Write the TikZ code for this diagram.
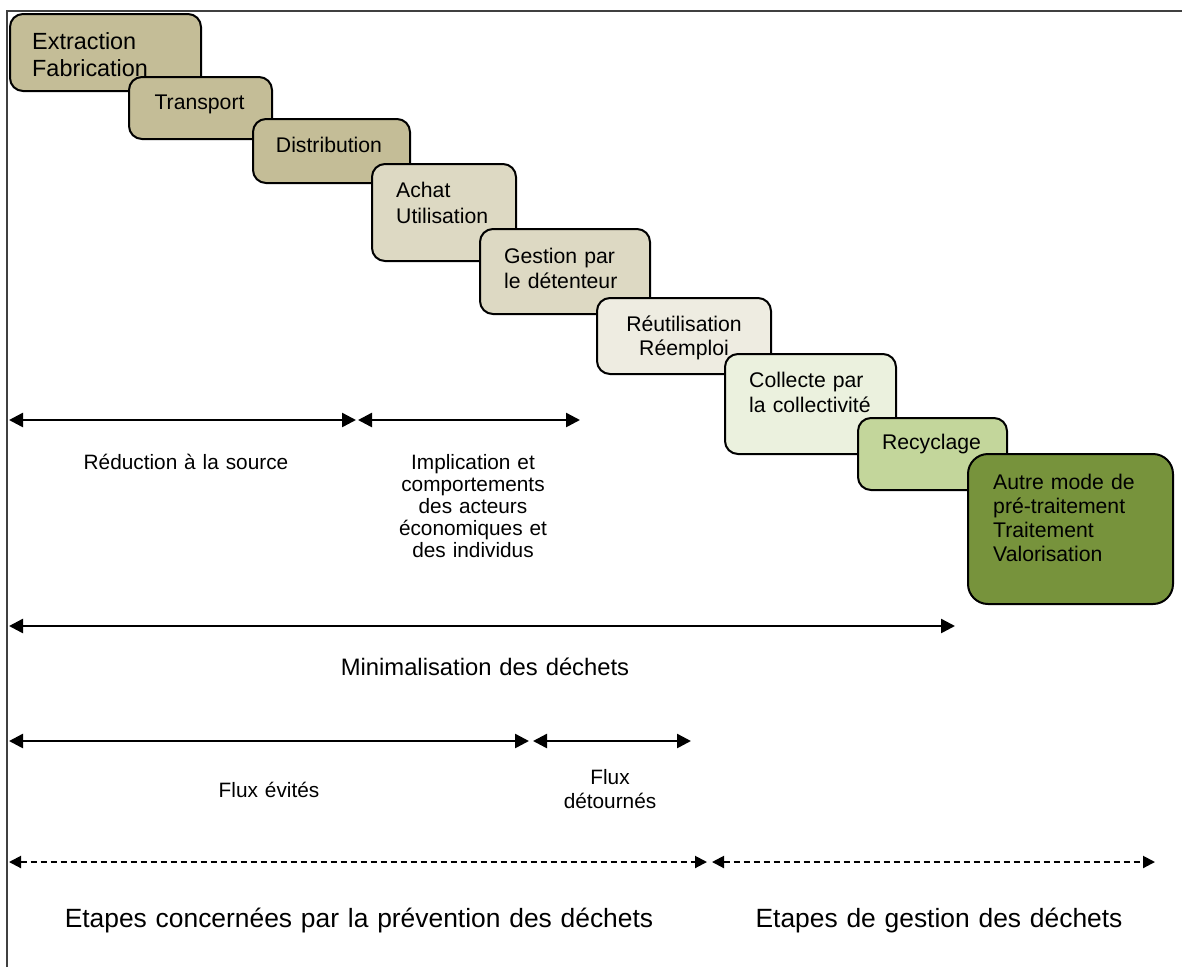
\documentclass[tikz,border=0pt]{standalone}
\usepackage{fontspec}
\setmainfont{Liberation Sans}
\newfontfamily\boxfont{Liberation Sans}
\newfontfamily\lblfont{Liberation Sans}
\newfontfamily\bigfont{Liberation Sans}
\usetikzlibrary{arrows.meta}
\definecolor{tanA}{HTML}{C4BD97}
\definecolor{tanB}{HTML}{DDD9C3}
\definecolor{tanC}{HTML}{EEECE1}
\definecolor{grnA}{HTML}{EBF1DE}
\definecolor{grnB}{HTML}{C3D69B}
\definecolor{grnC}{HTML}{77933C}
\definecolor{framec}{HTML}{404040}
\begin{document}
\begin{tikzpicture}[x=1pt,y=-1pt,
  stage/.style={draw=black, line width=2pt, rounded corners=13pt, inner sep=0pt, anchor=north west},
  stagetext/.style={inner sep=0pt, font=\boxfont\fontsize{21.2}{25}\selectfont, anchor=base west, align=left, text width=190pt},
  stagetextc/.style={inner sep=0pt, font=\boxfont\fontsize{21.2}{24}\selectfont, anchor=base, align=center, text width=190pt},
  lbl/.style={inner sep=0pt, font=\lblfont\fontsize{20.8}{22}\selectfont, anchor=base, align=center, text width=300pt},
  biglbl/.style={inner sep=0pt, anchor=base, align=center, text width=700pt},
  dimarrow/.style={line width=2.5pt, {Triangle[length=14pt,width=14pt]}-{Triangle[length=14pt,width=14pt]}},
  dasharrow/.style={line width=2pt, dash pattern=on 6pt off 4pt, {Triangle[length=12pt,width=12pt]}-{Triangle[length=12pt,width=12pt]}}
]
\useasboundingbox (0,0) rectangle (1182,967);
% frame
\draw[line width=1.5pt, framec] (7,967) -- (7,11) -- (1182,11);

% stages
\node[stage, fill=tanA, minimum width=191pt, minimum height=77pt] (ext) at (9,13) {};
\node[stagetext, font=\boxfont\fontsize{23.4}{27}\selectfont] (extT) at (32,49) {Extraction\\Fabrication};
\node[stage, fill=tanA, minimum width=143pt, minimum height=62pt] (tra) at (128,76) {};
\node[stagetextc] (traT) at (199.5,109) {Transport};
\node[stage, fill=tanA, minimum width=157pt, minimum height=64pt] (dis) at (252,118) {};
\node[stagetextc] (disT) at (329,152) {Distribution};
\node[stage, fill=tanB, minimum width=144pt, minimum height=97pt] (ach) at (371,163) {};
\node[stagetext, font=\boxfont\fontsize{21.2}{26}\selectfont] (achT) at (396,197) {Achat\\Utilisation};
\node[stage, fill=tanB, minimum width=170pt, minimum height=85pt] (ges) at (479,228) {};
\node[stagetext] (gesT) at (504,263) {Gestion par\\le détenteur};
\node[stage, fill=tanC, minimum width=174pt, minimum height=76pt] (reu) at (596,297) {};
\node[stagetextc] (reuT) at (684,331) {Réutilisation\\Réemploi};
\node[stage, fill=grnA, minimum width=171pt, minimum height=100pt] (col) at (724,353) {};
\node[stagetext] (colT) at (749,387) {Collecte par\\la collectivité};
\node[stage, fill=grnB, minimum width=149pt, minimum height=72pt] (rec) at (857,417) {};
\node[stagetextc] (recT) at (931.5,449) {Recyclage};
\node[stage, fill=grnC, rounded corners=20pt, minimum width=205pt, minimum height=150pt] (aut) at (967,453) {};
\node[stagetext, font=\boxfont\fontsize{21.2}{24.3}\selectfont] (autT) at (993,489) {Autre mode de\\pré-traitement\\Traitement\\Valorisation};

% row 1
\coordinate (r1a) at (9,420);
\coordinate (r1b) at (356,420);
\coordinate (r1c) at (358,420);
\coordinate (r1d) at (580,420);
\draw[dimarrow] (r1a) -- (r1b);
\draw[dimarrow] (r1c) -- (r1d);
\node[lbl] (red) at (186,469) {Réduction à la source};
\node[lbl] (imp) at (473,469) {Implication et\\comportements\\des acteurs\\économiques et\\des individus};

% row 2
\coordinate (r2a) at (9,626);
\coordinate (r2b) at (955,626);
\draw[dimarrow] (r2a) -- (r2b);
\node[biglbl, font=\bigfont\fontsize{23.8}{28}\selectfont] (min) at (485,675) {Minimalisation des déchets};

% row 3
\coordinate (r3a) at (9,741);
\coordinate (r3b) at (529,741);
\coordinate (r3c) at (533,741);
\coordinate (r3d) at (691,741);
\draw[dimarrow] (r3a) -- (r3b);
\draw[dimarrow] (r3c) -- (r3d);
\node[lbl] (fev) at (269,797) {Flux évités};
\node[lbl, font=\lblfont\fontsize{20.8}{24}\selectfont] (fde) at (610,784) {Flux\\détournés};

% row 4
\coordinate (r4a) at (9,862);
\coordinate (r4b) at (707,862);
\coordinate (r4c) at (712,862);
\coordinate (r4d) at (1155,862);
\draw[dasharrow] (r4a) -- (r4b);
\draw[dasharrow] (r4c) -- (r4d);
\node[biglbl, font=\bigfont\fontsize{26.4}{30}\selectfont] (prev) at (359,927) {Etapes concernées par la prévention des déchets};
\node[biglbl, font=\bigfont\fontsize{26.4}{30}\selectfont] (gest) at (939,927) {Etapes de gestion des déchets};
\end{tikzpicture}
\end{document}
